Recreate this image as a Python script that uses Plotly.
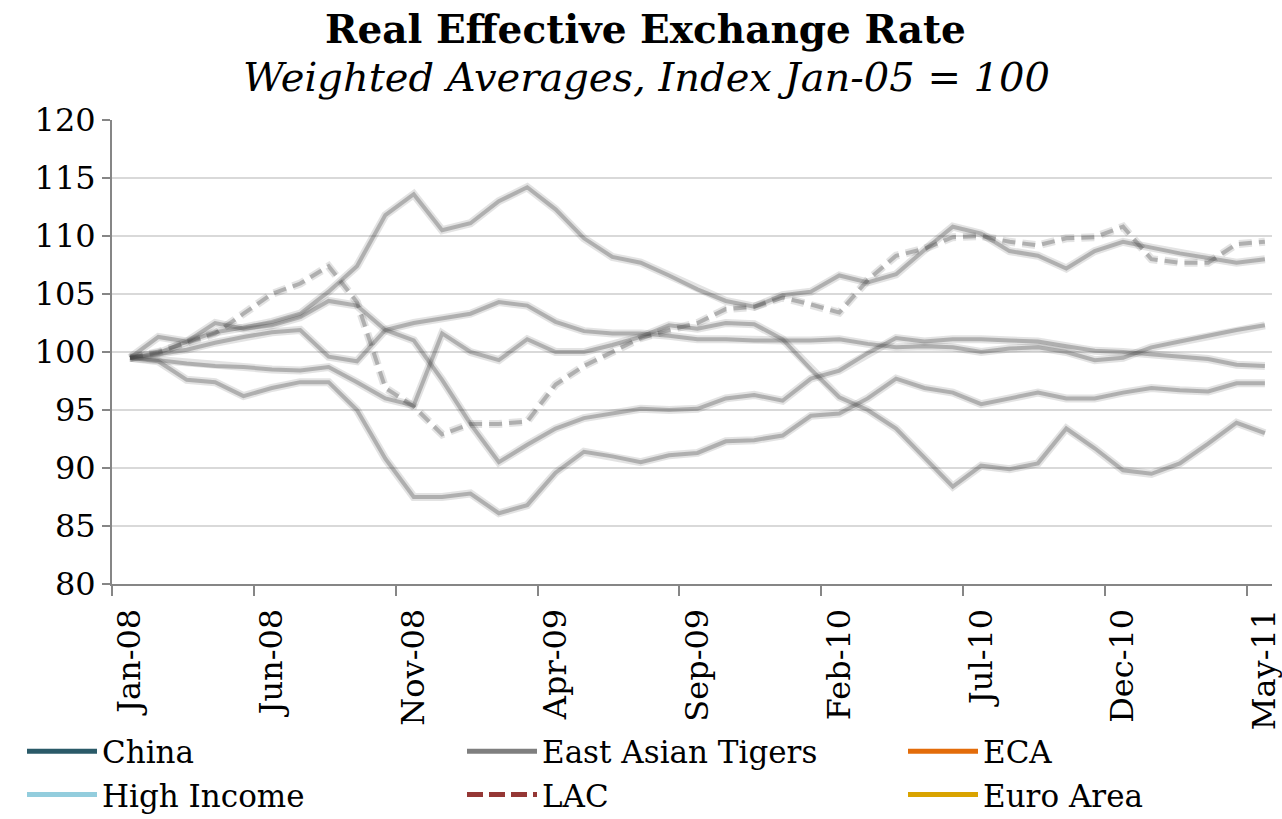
import plotly.graph_objects as go

months = ["Jan-08","Feb-08","Mar-08","Apr-08","May-08","Jun-08","Jul-08","Aug-08","Sep-08","Oct-08","Nov-08","Dec-08",
          "Jan-09","Feb-09","Mar-09","Apr-09","May-09","Jun-09","Jul-09","Aug-09","Sep-09","Oct-09","Nov-09","Dec-09",
          "Jan-10","Feb-10","Mar-10","Apr-10","May-10","Jun-10","Jul-10","Aug-10","Sep-10","Oct-10","Nov-10","Dec-10",
          "Jan-11","Feb-11","Mar-11","Apr-11","May-11"]

china = [99.5, 99.9, 100.9, 101.7, 102.1, 102.6, 103.3, 105.2, 107.4, 111.8, 113.6, 110.5, 111.1, 113.0, 114.2, 112.3,
         109.8, 108.2, 107.7, 106.6, 105.4, 104.4, 103.9, 104.9, 105.2, 106.6, 106.0, 106.7, 108.8, 110.8, 110.2, 108.7,
         108.3, 107.2, 108.7, 109.5, 109.0, 108.5, 108.1, 107.7, 108.0]
east_asian_tigers = [99.5, 99.8, 100.2, 100.8, 101.3, 101.7, 101.9, 99.6, 99.2, 101.9, 102.5, 102.9, 103.3, 104.3, 104.0, 102.6,
                     101.8, 101.6, 101.6, 101.4, 101.1, 101.1, 101.0, 101.0, 101.0, 101.1, 100.7, 100.4, 100.5, 100.4, 100.0, 100.3,
                     100.4, 100.0, 99.3, 99.5, 100.4, 100.9, 101.4, 101.9, 102.3]
eca = [99.5, 99.2, 97.6, 97.4, 96.2, 96.9, 97.4, 97.4, 95.0, 90.8, 87.5, 87.5, 87.8, 86.1, 86.8, 89.6,
       91.4, 91.0, 90.5, 91.1, 91.3, 92.3, 92.4, 92.8, 94.5, 94.7, 96.0, 97.7, 96.9, 96.5, 95.5, 96.0,
       96.5, 96.0, 96.0, 96.5, 96.9, 96.7, 96.6, 97.3, 97.3]
high_income = [99.5, 101.3, 100.9, 102.5, 102.0, 102.3, 103.0, 104.4, 104.0, 101.9, 101.0, 97.6, 93.8, 90.5, 92.0, 93.4,
               94.3, 94.7, 95.1, 95.0, 95.1, 96.0, 96.3, 95.8, 97.7, 98.4, 99.9, 101.2, 100.9, 101.1, 101.1, 101.0,
               100.9, 100.5, 100.1, 100.0, 99.8, 99.6, 99.4, 98.9, 98.8]
lac = [99.5, 100.0, 100.8, 101.6, 103.3, 105.0, 105.9, 107.4, 104.3, 96.9, 95.3, 92.9, 93.8, 93.8, 94.0, 97.2,
       98.8, 100.0, 101.2, 101.9, 102.5, 103.7, 103.9, 104.7, 104.1, 103.4, 106.2, 108.3, 108.9, 109.9, 110.0, 109.5,
       109.2, 109.8, 109.9, 110.8, 108.0, 107.7, 107.7, 109.3, 109.5]
euro_area = [99.5, 99.3, 99.0, 98.8, 98.7, 98.5, 98.4, 98.7, 97.4, 96.0, 95.4, 101.6, 100.0, 99.3, 101.1, 100.0,
             100.0, 100.6, 101.3, 102.3, 102.0, 102.5, 102.4, 101.1, 98.5, 96.1, 95.0, 93.4, 90.9, 88.4, 90.2, 89.9,
             90.4, 93.4, 91.7, 89.8, 89.5, 90.4, 92.1, 93.9, 93.0]

series_names = ["China", "East Asian Tigers", "ECA", "High Income", "LAC", "Euro Area"]
series_values = [china, east_asian_tigers, eca, high_income, lac, euro_area]
legend_colors = ["#2A5A68", "#7F7F7F", "#E36C0A", "#93CDDD", "#953735", "#D9A300"]
dashed = [False, False, False, False, True, False]
legend_ids = ["legend", "legend2", "legend3", "legend", "legend2", "legend3"]

x = list(range(len(months)))
FONT = "DejaVu Serif"

fig = go.Figure()

# faded grey lines in the plot (soft edge emulated with a wide faint halo + a narrower core)
for vals, is_dash in zip(series_values, dashed):
    d = "13px,7px" if is_dash else "solid"
    fig.add_trace(go.Scatter(x=x, y=vals, mode="lines", showlegend=False, hoverinfo="skip",
                             line=dict(color="rgba(70,70,70,0.15)", width=8, dash=d)))
    fig.add_trace(go.Scatter(x=x, y=vals, mode="lines", showlegend=False, hoverinfo="skip",
                             line=dict(color="rgba(70,70,70,0.33)", width=4, dash=d)))

# legend entries with the series colours
for name, col, is_dash, lg in zip(series_names, legend_colors, dashed, legend_ids):
    fig.add_trace(go.Scatter(x=[None], y=[None], mode="lines", name=name, legend=lg,
                             line=dict(color=col, width=5, dash="16px,6px" if is_dash else "solid")))

tick_off = -0.634
leg_font = dict(family=FONT, size=31, color="black")
leg_y = -0.303
fig.update_layout(
    width=1282, height=819,
    margin=dict(l=112, r=10, t=120, b=235, autoexpand=False),
    paper_bgcolor="white", plot_bgcolor="white",
    font=dict(family=FONT, color="black"),
    xaxis=dict(range=[tick_off, 40.25], tickmode="array", tickvals=x[::5], ticktext=months[::5],
               tickangle=-90, ticks="", showgrid=False, zeroline=False,
               showline=True, linecolor="#868686", linewidth=2,
               tickfont=dict(family=FONT, size=32, color="black"), ticklabelstandoff=10,
               ticklabeloverflow="allow",
               minor=dict(tickmode="array", tickvals=[tick_off + 5 * k for k in range(9)],
                          ticks="outside", ticklen=10, tickwidth=1.5, tickcolor="#868686", showgrid=False)),
    yaxis=dict(range=[80, 120], tickmode="linear", tick0=80, dtick=5,
               showgrid=True, gridcolor="#D9D9D9", gridwidth=1.5, zeroline=False,
               showline=True, linecolor="#868686", linewidth=2,
               ticks="outside", ticklen=8, tickwidth=1.5, tickcolor="#868686",
               tickfont=dict(family=FONT, size=32, color="black")),
    legend=dict(x=(22 - 112) / 1160, y=leg_y, xanchor="left", yanchor="top", orientation="v",
                font=leg_font, itemwidth=70, bgcolor="rgba(0,0,0,0)"),
    legend2=dict(x=(462 - 112) / 1160, y=leg_y, xanchor="left", yanchor="top", orientation="v",
                 font=leg_font, itemwidth=70, bgcolor="rgba(0,0,0,0)"),
    legend3=dict(x=(903 - 112) / 1160, y=leg_y, xanchor="left", yanchor="top", orientation="v",
                 font=leg_font, itemwidth=70, bgcolor="rgba(0,0,0,0)"),
    annotations=[
        dict(text="<b>Real Effective Exchange Rate</b>", xref="paper", yref="paper",
             x=(645 - 112) / 1160, y=1 + (120 - 29) / 464, xanchor="center", yanchor="middle",
             showarrow=False, font=dict(family=FONT, size=39, color="black")),
        dict(text="<i>Weighted Averages, Index Jan-05 = 100</i>", xref="paper", yref="paper",
             x=(646 - 112) / 1160, y=1 + (120 - 77) / 464, xanchor="center", yanchor="middle",
             showarrow=False, font=dict(family=FONT, size=40, color="black")),
    ],
)

fig.write_html("out.html", config={"displayModeBar": False},
               post_script="document.body.style.margin='0px';document.body.style.overflow='hidden';")
